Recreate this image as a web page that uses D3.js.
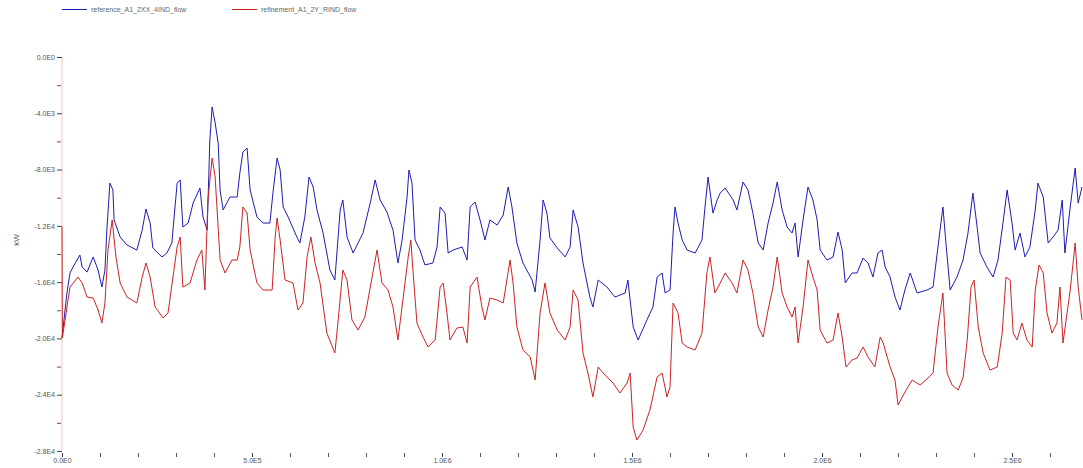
<!DOCTYPE html>
<html>
<head>
<meta charset="utf-8">
<script src="https://cdn.jsdelivr.net/npm/d3@7"></script>
<style>
  html, body { margin: 0; padding: 0; background: #fff; }
  svg { display: block; font-family: "Liberation Sans", Arial, sans-serif; }
</style>
</head>
<body>
<svg id="chart" width="1083" height="468"></svg>
<script>
// Series names shown in the legend
const seriesNames = ["reference_A1_2XX_4IND_flow", "refinement_A1_2Y_RIND_flow"];

// Sample positions (thousands) and flow values for the first series
const blueT = [0,13,21,29,47,53,66,82,95,105,113,118,126,134,137,153,171,197,211,221,232,239,263,276,289,292,303,311,318,332,345,363,371,382,389,395,403,411,416,424,442,461,468,476,487,495,513,529,547,555,566,574,582,595,618,626,639,650,661,671,687,705,718,732,739,750,766,792,811,824,837,855,871,884,895,908,913,921,929,942,955,976,987,995,1008,1016,1029,1053,1066,1074,1087,1100,1113,1126,1145,1161,1174,1184,1197,1213,1237,1245,1258,1266,1276,1284,1303,1324,1337,1345,1358,1371,1389,1397,1411,1434,1455,1482,1489,1503,1516,1539,1555,1566,1579,1587,1600,1608,1613,1621,1632,1645,1666,1684,1692,1700,1713,1724,1732,1745,1766,1776,1792,1805,1818,1832,1845,1858,1871,1882,1895,1908,1921,1929,1937,1950,1963,1976,1987,1995,2013,2029,2042,2053,2061,2079,2092,2108,2121,2134,2147,2158,2166,2179,2192,2205,2218,2232,2250,2276,2292,2305,2318,2326,2337,2355,2371,2384,2397,2408,2416,2434,2450,2463,2476,2487,2500,2508,2521,2534,2547,2561,2568,2582,2595,2608,2621,2632,2639,2653,2666,2674,2684];
const blueV = [-19970,-16770,-15350,-14930,-14070,-14930,-15280,-14210,-15140,-16350,-15140,-12300,-8960,-9450,-11580,-12790,-13360,-13720,-12300,-10800,-11800,-13570,-14210,-13930,-13220,-12300,-8960,-8740,-12080,-11800,-10380,-9310,-11370,-12300,-5900,-3550,-4690,-6110,-9450,-10870,-9950,-9950,-8240,-6750,-6470,-9450,-11370,-11800,-11800,-9670,-7180,-8030,-10660,-11370,-12790,-13220,-11370,-8530,-9240,-10870,-12510,-15140,-15850,-10870,-10160,-12790,-13930,-12510,-10380,-8740,-10160,-11020,-12300,-14640,-13010,-9950,-8030,-8960,-13010,-13720,-14780,-14640,-13500,-10660,-11090,-13930,-13720,-13500,-14430,-10660,-10310,-11580,-13010,-11580,-11940,-11230,-9240,-10660,-13220,-14640,-15850,-16700,-13010,-10160,-11090,-12860,-13570,-14210,-13500,-10870,-12080,-14640,-17060,-17770,-15850,-16350,-17060,-16770,-15850,-19190,-20110,-18690,-17770,-15640,-15350,-16770,-16560,-12510,-10660,-11800,-13010,-13720,-13930,-13010,-10660,-8530,-11090,-10160,-9670,-9310,-10160,-10870,-8880,-9450,-11090,-13220,-13720,-11800,-10380,-8880,-10870,-12080,-12510,-11800,-14210,-11580,-9240,-10160,-11580,-13720,-14430,-14210,-12440,-13720,-16060,-15350,-15350,-14290,-14640,-15640,-13930,-13720,-14930,-15640,-17060,-17980,-16560,-15350,-16770,-16560,-16350,-13500,-10660,-13220,-16560,-15640,-14430,-12510,-9670,-12080,-13930,-14930,-15640,-14430,-11800,-9450,-11800,-13720,-12510,-14210,-13500,-10870,-8960,-9950,-13220,-12790,-12300,-10160,-13930,-10660,-7890,-10380,-9240];

// Sample positions (thousands) and flow values for the second series
const redT = [0,1,21,42,53,66,82,95,105,113,121,132,142,153,171,197,211,221,232,245,266,279,292,303,311,318,337,355,368,376,384,395,403,416,429,447,461,468,476,487,495,513,529,553,561,566,574,587,608,621,634,645,655,666,679,697,718,726,739,750,763,779,797,816,829,842,858,871,884,897,911,918,924,934,950,963,982,995,1003,1013,1021,1039,1055,1066,1074,1092,1105,1113,1126,1145,1161,1179,1187,1197,1213,1232,1245,1258,1271,1284,1303,1324,1337,1345,1358,1371,1384,1397,1411,1424,1450,1468,1487,1495,1503,1513,1529,1547,1566,1579,1592,1600,1608,1621,1632,1645,1666,1684,1697,1705,1718,1732,1745,1763,1776,1792,1805,1818,1832,1845,1858,1871,1882,1895,1908,1921,1929,1937,1950,1963,1976,1987,1995,2013,2029,2042,2053,2063,2079,2092,2108,2121,2139,2153,2161,2179,2192,2200,2218,2237,2258,2279,2292,2305,2318,2329,2342,2358,2371,2382,2392,2400,2411,2424,2442,2461,2474,2484,2495,2503,2513,2526,2539,2553,2561,2571,2582,2592,2605,2618,2626,2634,2653,2666,2674,2684];
const redV = [-12080,-19970,-16350,-15640,-16060,-17060,-17130,-17980,-18910,-17480,-13720,-11580,-14210,-16060,-17060,-17480,-15640,-14640,-15640,-17770,-18550,-18190,-15640,-13500,-12790,-16350,-16060,-14430,-13720,-16560,-10160,-7180,-8530,-14430,-15350,-14430,-14430,-13500,-10660,-11090,-13720,-16060,-16560,-16560,-12790,-11440,-13010,-15850,-16060,-17980,-17480,-14210,-12790,-14640,-16060,-19620,-21040,-18910,-15140,-15850,-18690,-19400,-18480,-15640,-13720,-16060,-16560,-17770,-20110,-17270,-14210,-13010,-15350,-18910,-19900,-20610,-20110,-16350,-16060,-18190,-20110,-19260,-19190,-20330,-16350,-15640,-17770,-18690,-17130,-17270,-17480,-14430,-16060,-19190,-20820,-21320,-22960,-18190,-16060,-18190,-19400,-20110,-19190,-16560,-17270,-21040,-22460,-24160,-22030,-22460,-23170,-23880,-23170,-22460,-26300,-27220,-26510,-25090,-22740,-22460,-24160,-23450,-17480,-18190,-20330,-20610,-20820,-19620,-15350,-14210,-16770,-16060,-15350,-16060,-16770,-14430,-15140,-16770,-19190,-19900,-17980,-16350,-14210,-16770,-17770,-18480,-17770,-20330,-17770,-14430,-15640,-16560,-19400,-20330,-20110,-18190,-19900,-22030,-21530,-21390,-20610,-21320,-22030,-19900,-20330,-22030,-22960,-24730,-23810,-22960,-23310,-22810,-22460,-19190,-16770,-22460,-23310,-23670,-22810,-20110,-16350,-15850,-19190,-21040,-22250,-22030,-19620,-15640,-15850,-19620,-20110,-18910,-20110,-20610,-16560,-14780,-15350,-18190,-19620,-18910,-16350,-20330,-16560,-13220,-16350,-18690];

// Axis ticks
const yTickValues = [0, -4000, -8000, -12000, -16000, -20000, -24000, -28000];
const xTickValues = [0, 500000, 1000000, 1500000, 2000000, 2500000];
const yAxisTitle = "kW";

const colors = ["#1c1cb4", "#cc2222"];

const svg = d3.select("#chart");

const x = d3.scaleLinear().domain([0, 2684000]).range([62, 1082]);
const y = d3.scaleLinear().domain([-28000, 0]).range([451, 57]);

const fmt = v => v.toExponential(1).replace("e+", "E").replace("e-", "E-").toUpperCase();

// faint vertical axis line
svg.append("line")
  .attr("x1", 62).attr("x2", 62)
  .attr("y1", y(0)).attr("y2", y(-28000))
  .attr("stroke", "#f1c6c6").attr("stroke-width", 1);

// y axis: labelled major ticks plus minor ticks in between
const yAxis = d3.axisLeft(y)
  .tickValues(yTickValues)
  .tickFormat(fmt)
  .tickSize(5)
  .tickPadding(2);
const gy = svg.append("g").attr("transform", "translate(62,0)").call(yAxis);
gy.select(".domain").remove();
gy.selectAll("line").attr("stroke", "#444");
gy.selectAll("text").attr("fill", "#555").attr("font-size", 7);

const yMinor = d3.range(-26000, 0, 4000);
svg.append("g").selectAll("line").data(yMinor).join("line")
  .attr("x1", 57).attr("x2", 61)
  .attr("y1", d => y(d) + 0.5).attr("y2", d => y(d) + 0.5)
  .attr("stroke", "#555");

// x axis: minor ticks every 1E5, labels every 5E5
const xMinor = d3.range(100000, 2684000, 100000);
svg.append("g").selectAll("line").data(xMinor).join("line")
  .attr("x1", d => Math.round(x(d)) + 0.5).attr("x2", d => Math.round(x(d)) + 0.5)
  .attr("y1", 453).attr("y2", 457)
  .attr("stroke", "#555");

const xAxis = d3.axisBottom(x)
  .tickValues(xTickValues)
  .tickFormat(fmt)
  .tickSize(4)
  .tickPadding(1);
const gx = svg.append("g").attr("transform", "translate(0,453)").call(xAxis);
gx.select(".domain").remove();
gx.selectAll("line").attr("stroke", "#444");
gx.selectAll("text").attr("fill", "#555").attr("font-size", 7);

// y axis title
svg.append("text")
  .attr("transform", "translate(19,240) rotate(-90)")
  .attr("text-anchor", "middle")
  .attr("font-size", 8)
  .attr("fill", "#555")
  .text(yAxisTitle);

// series lines
const series = [
  { t: blueT, v: blueV, color: colors[0] },
  { t: redT, v: redV, color: colors[1] }
];

const line = d3.line()
  .x(d => x(d[0] * 1000))
  .y(d => y(d[1]));

series.forEach(s => {
  const pts = s.t.map((t, i) => [t, s.v[i]]);
  svg.append("path")
    .datum(pts)
    .attr("fill", "none")
    .attr("stroke", s.color)
    .attr("stroke-width", 1)
    .attr("stroke-linejoin", "round")
    .attr("d", line);
});

// legend
const legendPos = [62, 232];
seriesNames.forEach((name, i) => {
  const g = svg.append("g").attr("transform", `translate(${legendPos[i]},9)`);
  g.append("line").attr("x1", 0).attr("x2", 25).attr("y1", 0.5).attr("y2", 0.5)
    .attr("stroke", colors[i]).attr("stroke-width", 1);
  g.append("text").attr("x", 29).attr("y", 3)
    .attr("font-size", 7).attr("fill", "#666").text(name);
});
</script>
</body>
</html>
